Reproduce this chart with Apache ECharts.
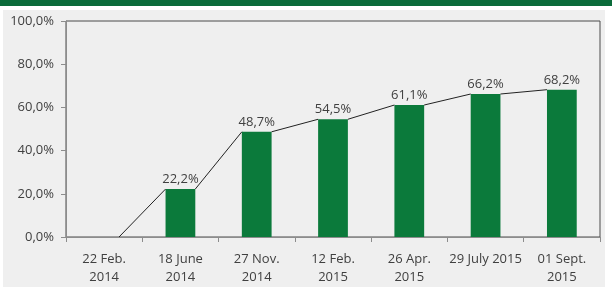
<!DOCTYPE html>
<html>
<head>
<meta charset="utf-8">
<script src="https://cdn.jsdelivr.net/npm/echarts@6/dist/echarts.min.js"></script>
<style>
  html, body { margin: 0; padding: 0; background: #fff; }
  #chart { width: 612px; height: 290px; }
</style>
</head>
<body>
<div id="chart"></div>
<script>
// categories and values
const dates = ['22 Feb.\n2014', '18 June\n2014', '27 Nov.\n2014', '12 Feb.\n2015', '26 Apr.\n2015', '29 July 2015', '01 Sept.\n2015'];
const shares = [0, 22.2, 48.7, 54.5, 61.1, 66.2, 68.2];
const yTicks = [0, 20, 40, 60, 80, 100];

const barRatio = 0.39;
const fmt = v => v.toFixed(1).replace('.', ',') + '%';

// connector segments: from right top corner of one bar to left top corner of next
const links = shares.slice(0, -1).map((v, i) => [i, v, shares[i + 1]]);

const chart = echarts.init(document.getElementById('chart'));
chart.setOption({
  animation: false,
  textStyle: { fontFamily: 'Open Sans' },
  graphic: [
    { type: 'rect', shape: { x: 0, y: 0, width: 612, height: 6 }, style: { fill: '#0b6b3a' }, z: -10 },
    { type: 'rect', shape: { x: 3, y: 10, width: 602, height: 277 }, style: { fill: '#efefef' }, z: -10 }
  ],
  grid: { left: 66, right: 12, top: 21, bottom: 53, show: true, borderColor: '#4a4a4a', borderWidth: 1, backgroundColor: 'transparent' },
  xAxis: {
    type: 'category',
    data: dates,
    axisLine: { lineStyle: { color: '#8c8c8c' } },
    axisTick: { show: true, length: 5, lineStyle: { color: '#8c8c8c' } },
    axisLabel: { color: '#404040', fontSize: 13, lineHeight: 18, margin: 13, interval: 0 }
  },
  yAxis: {
    type: 'value',
    min: 0, max: 100, interval: 20,
    splitLine: { show: false },
    axisLine: { show: true, lineStyle: { color: '#8c8c8c' } },
    axisTick: { show: true, length: 5, lineStyle: { color: '#8c8c8c' } },
    axisLabel: { color: '#404040', fontSize: 13, margin: 12, formatter: v => yTicks.includes(v) ? fmt(v) : '' }
  },
  series: [
    {
      type: 'bar',
      data: shares,
      barWidth: (barRatio * 100) + '%',
      itemStyle: { color: '#0b7a3b' },
      label: { show: true, position: 'top', distance: 3, color: '#404040', fontSize: 13, formatter: p => p.value ? fmt(p.value) : '' }
    },
    {
      type: 'custom',
      data: links,
      z: 5,
      renderItem: (params, api) => {
        const a = api.coord([api.value(0), api.value(1)]);
        const b = api.coord([api.value(0) + 1, api.value(2)]);
        const half = api.size([1, 0])[0] * barRatio / 2;
        return {
          type: 'line',
          shape: { x1: a[0] + half, y1: a[1], x2: b[0] - half, y2: b[1] },
          style: { stroke: '#222', lineWidth: 1 }
        };
      }
    }
  ]
});
</script>
</body>
</html>
